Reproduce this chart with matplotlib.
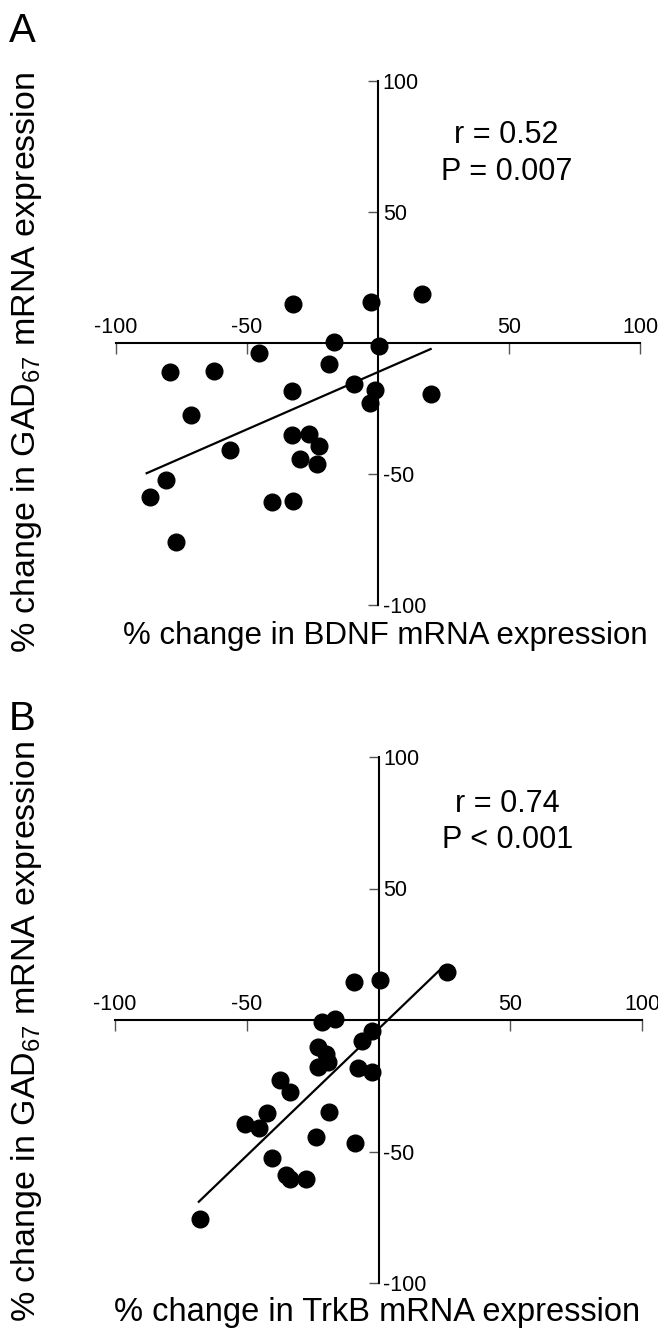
import matplotlib
matplotlib.use('Agg')
import matplotlib.pyplot as plt

# ---- data ----
bdnf_x = [-32.3, -2.7, 16.7, -16.8, 0.3, -45.5, -79.4, -62.6, -18.7, -9.0, -32.8, -1.0, -2.9,
          20.1, -71.3, -32.9, -26.2, -22.4, -56.4, -29.8, -23.2, -80.9, -86.9, -40.5, -32.4, -77.2]
gad_a_y = [14.9, 15.5, 18.6, 0.5, -1.0, -3.9, -11.2, -10.6, -7.9, -15.5, -18.2, -18.1, -22.8,
           -19.5, -27.4, -35.1, -34.7, -39.3, -41.0, -44.4, -46.2, -52.4, -58.9, -60.6, -60.3, -76.1]
fit_a_x = [-88.3, 20.1]
fit_a_y = [-49.7, -2.3]

trkb_x = [-9.4, 0.6, 25.9, -21.4, -16.6, -2.3, -6.3, -22.9, -19.8, -19.2, -23.0, -7.8, -2.4,
          -37.5, -33.7, -42.4, -18.8, -50.6, -45.4, -23.6, -9.0, -40.6, -35.0, -33.7, -27.6, -67.6]
gad_b_y = [14.6, 15.2, 18.4, -0.9, 0.3, -4.1, -7.8, -10.4, -12.9, -15.8, -18.0, -18.4, -19.7,
           -22.8, -27.5, -35.5, -34.9, -39.7, -41.2, -44.4, -46.6, -52.4, -58.9, -60.6, -60.6, -75.8]
fit_b_x = [-68.2, 24.6]
fit_b_y = [-69.1, 20.3]

ticks = [-100, -50, 50, 100]
stats_a = "r = 0.52\nP = 0.007"
stats_b = "r = 0.74\nP < 0.001"
xlabel_a = "% change in BDNF mRNA expression"
xlabel_b = "% change in TrkB mRNA expression"
ylabel = r"% change in GAD$_{\mathregular{67}}$ mRNA expression"

plt.rcParams['font.family'] = ['Liberation Sans', 'DejaVu Sans']
plt.rcParams['mathtext.fontset'] = 'custom'
plt.rcParams['mathtext.rm'] = 'Liberation Sans'
plt.rcParams['mathtext.it'] = 'Liberation Sans'

W, H = 658, 1333
fig = plt.figure(figsize=(W / 100, H / 100), dpi=100)


def add_ax(x0, x1, ytop, ybot):
    return fig.add_axes([x0 / W, 1 - ybot / H, (x1 - x0) / W, (ybot - ytop) / H])


def style(ax):
    for sp in ['left', 'right', 'bottom', 'top']:
        ax.spines[sp].set_position(('data', 0))
    ax.spines['right'].set_visible(False)
    ax.spines['top'].set_visible(False)
    ax.spines['left'].set_linewidth(1.5)
    ax.spines['bottom'].set_linewidth(1.5)
    ax.set_xlim(-100, 100)
    ax.set_ylim(-100, 100)
    ax.set_xticks(ticks)
    ax.set_yticks(ticks)
    ax.set_xticklabels([str(t) for t in ticks])
    ax.set_yticklabels([str(t) for t in ticks])
    ax.tick_params(axis='x', bottom=True, top=False, labelbottom=False, labeltop=True,
                   direction='out', length=8, width=1, pad=-4.5, labelsize=15.5, color='#555555')
    ax.tick_params(axis='y', left=True, right=False, labelleft=False, labelright=True,
                   direction='out', length=7, width=1, pad=-3.5, labelsize=15.5, color='#555555')
    ax.patch.set_visible(False)


axA = add_ax(116, 640, 81, 605)
style(axA)
axA.plot(fit_a_x, fit_a_y, color='black', lw=1.6, clip_on=False)
axA.plot(bdnf_x, gad_a_y, 'o', color='black', ms=12, clip_on=False)
axA.text(49, 85, stats_a, ha='center', va='top', fontsize=22, linespacing=1.3)

axB = add_ax(115, 642, 757, 1283)
style(axB)
axB.plot(fit_b_x, fit_b_y, color='black', lw=1.6, clip_on=False)
axB.plot(trkb_x, gad_b_y, 'o', color='black', ms=12, clip_on=False)
axB.text(49, 88, stats_b, ha='center', va='top', fontsize=22, linespacing=1.3)

fig.text(385 / W, 1 - 636 / H, xlabel_a, ha='center', va='center', fontsize=22.5)
fig.text(377 / W, 1 - 1312 / H, xlabel_b, ha='center', va='center', fontsize=23.5)
fig.text(27 / W, 1 - 362 / H, ylabel, ha='center', va='center', rotation=90, fontsize=24.5)
fig.text(27 / W, 1 - 1031 / H, ylabel, ha='center', va='center', rotation=90, fontsize=24.5)
fig.text(9 / W, 1 - 12 / H, "A", ha='left', va='top', fontsize=29)
fig.text(9 / W, 1 - 700 / H, "B", ha='left', va='top', fontsize=29)

fig.savefig('out.png', dpi=100)
